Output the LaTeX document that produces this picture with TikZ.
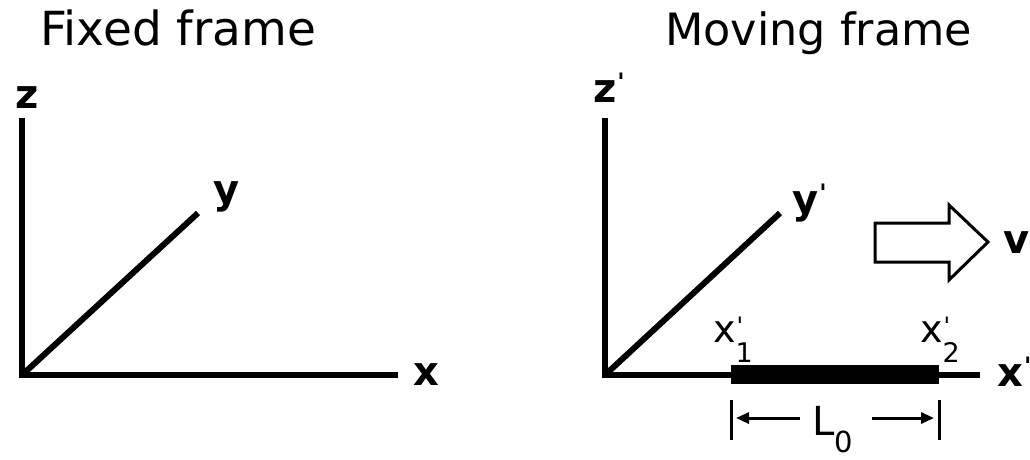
\documentclass[tikz,border=0pt]{standalone}
\usepackage{fontspec}
\setmainfont{DejaVu Sans}
\usetikzlibrary{arrows.meta}
\newcommand{\smallprime}[1]{\rlap{\kern1pt\raisebox{#1}{\fontsize{24}{24}\selectfont\textquotesingle}}}
\newcommand{\primesub}[1]{x\smallprime{8pt}\raisebox{-20pt}{\fontsize{27}{27}\selectfont #1}}
\begin{document}
\begin{tikzpicture}[x=1pt,y=-1pt,
  axis/.style={line width=6pt},
  title/.style={anchor=base west,inner sep=0pt},
  axlabel/.style={anchor=base west,inner sep=0pt,font=\fontsize{40}{40}\selectfont\bfseries},
  sublabel/.style={anchor=base west,inner sep=0pt,font=\fontsize{38}{38}\selectfont},
  dimline/.style={line width=3pt},
  dimarrow/.style={line width=3pt,-{Triangle[length=13pt,width=11pt]}},
  blockarrow/.style={line width=3pt,line join=miter,fill=white}]
\useasboundingbox (0,0) rectangle (1030,459);
% titles
\node[title,font=\fontsize{47}{47}\selectfont] (t1) at (40,45) {Fixed frame};
\node[title,font=\fontsize{44.5}{44.5}\selectfont] (t2) at (665,45) {Moving frame};
% fixed frame
\coordinate (O1) at (22,375);
\coordinate (Z1) at (22,118);
\coordinate (X1) at (398,375);
\coordinate (Y1) at (198,213);
\draw[axis] (Z1) -- (O1) -- (X1);
\draw[axis] (O1) -- (Y1);
\node[axlabel] (zl1) at (15,108) {z};
\node[axlabel] (yl1) at (213,203) {y};
\node[axlabel] (xl1) at (413,385) {x};
% moving frame
\coordinate (O2) at (605,375);
\coordinate (Z2) at (605,118);
\coordinate (X2) at (980,375);
\coordinate (Y2) at (780,213);
\draw[axis] (Z2) -- (O2) -- (X2);
\draw[axis] (O2) -- (Y2);
\node[axlabel] (zl2) at (593,102) {z\smallprime{12pt}};
\node[axlabel] (yl2) at (792,213) {y\smallprime{12pt}};
\node[axlabel] (xl2) at (997,386) {x\smallprime{12pt}};
% rod
\coordinate (B1) at (731,374.5);
\coordinate (B2) at (939,374.5);
\draw[line width=19pt] (B1) -- (B2);
\node[sublabel] (x1) at (713,342) {\primesub{1}};
\node[sublabel] (x2) at (920,342) {\primesub{2}};
% dimension
\coordinate (T1a) at (731,400);
\coordinate (T1b) at (731,440);
\coordinate (T2a) at (939,400);
\coordinate (T2b) at (939,440);
\draw[dimline] (T1a) -- (T1b);
\draw[dimline] (T2a) -- (T2b);
\node[anchor=base west,inner sep=0pt,font=\fontsize{40}{40}\selectfont] (L0) at (812,435) {L\raisebox{-17pt}{\fontsize{29}{29}\selectfont 0}};
\coordinate (A1s) at (800,418);
\coordinate (A1e) at (736,418);
\coordinate (A2s) at (872,418);
\coordinate (A2e) at (934,418);
\draw[dimarrow] (A1s) -- (A1e);
\draw[dimarrow] (A2s) -- (A2e);
% velocity arrow
\draw[blockarrow] (875,223) -- (949,223) -- (949,205) -- (988,242) -- (949,280) -- (949,262) -- (875,262) -- cycle;
\node[axlabel] (v) at (1003,253) {v};
\end{tikzpicture}
\end{document}
